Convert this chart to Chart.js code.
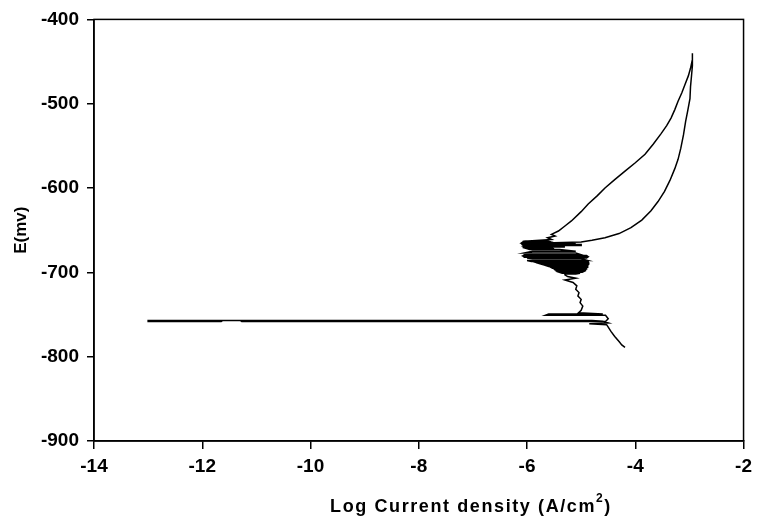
<!DOCTYPE html>
<html>
<head>
<meta charset="utf-8">
<script src="https://cdn.jsdelivr.net/npm/chart.js@4.4.0/dist/chart.umd.min.js"></script>
<style>
    html, body { margin: 0; padding: 0; background: #fff; }
    #wrap { width: 758px; height: 520px; }
</style>
</head>
<body>
<div id="wrap"><canvas id="tafel" width="758" height="520"></canvas></div>
<script>
// Polarization scan (log i in A/cm2, E in mV)
const logCurrent = [
    // cathodic tail and the long line at Ecorr
    -4.19, -4.25, -4.30, -4.38, -4.45, -4.50, -4.53, -4.85, -4.50, -4.60, -4.80,
    -13.0, -13.0, -11.65, -11.62, -11.30, -11.27, -4.55,
    -4.50, -4.55, -5.66, -5.60, -4.60, -5.05,
    // S part
    -5.00, -4.97, -5.02, -5.00, -5.06, -5.04, -5.10, -5.08, -5.15, -5.30, -5.10, -5.25, -5.30,
    // noisy band -702 .. -686
    -5.30, -5.10, -5.02, -5.35, -5.40, -4.98, -4.95, -5.42, -5.45, -4.93, -4.92, -5.48,
    -5.50, -4.90, -4.90, -5.53, -5.56, -4.89, -4.88, -5.60, -5.65, -4.88, -4.87, -5.70,
    -5.75, -4.87, -4.86, -5.80, -5.85, -4.86, -4.87, -5.92, -6.00, -4.88,
    // band -684 .. -679
    -5.00, -5.90, -6.00, -4.90, -4.88, -6.05, -6.07, -4.88, -4.90, -6.07, -6.05, -5.00,
    // band -677 .. -663
    -5.10, -6.05, -5.90, -5.10, -5.40, -5.95, -6.00, -5.50, -5.60, -6.05, -6.07, -5.30,
    -5.60, -6.05, -6.07, -5.00, -5.00, -6.08, -6.10, -5.10, -5.60, -6.10, -6.08, -5.55,
    -5.60, -6.05,
    -5.55, -5.62, -5.48, -5.55,
    // forward branch up to the vertex
    -5.42, -5.30, -5.18, -5.00, -4.87, -4.70, -4.56, -4.38, -4.19, -4.00, -3.82, -3.67, -3.53, -3.42,
    -3.34, -3.27, -3.21, -3.14, -3.08, -3.02, -2.98, -2.95, -2.94,
    // reverse branch
    -2.95, -2.96, -2.98, -2.99, -3.03, -3.07, -3.11, -3.16, -3.21, -3.27, -3.36, -3.46, -3.58, -3.71,
    -3.88, -4.08, -4.30, -4.56, -4.80, -5.00, -5.50, -6.08
];
const potential = [
    -789, -786, -782, -776, -770, -765, -762, -761, -760, -758, -757,
    -757, -758.3, -758.3, -757, -757, -758.3, -758.3,
    -755, -751, -751, -749.5, -749.5, -748,
    -745, -740, -736, -732, -728, -724, -720, -716, -712, -709, -707, -705, -703,
    -702, -702, -701, -701, -700, -700, -699, -699, -698, -698, -697, -697,
    -696, -696, -695, -695, -694, -694, -693, -693, -692, -692, -691, -691,
    -690, -690, -689, -689, -688, -688, -687, -687, -686, -686,
    -684, -684, -683, -683, -682, -682, -681, -681, -680, -680, -679, -679,
    -677, -677, -675, -675, -673, -673, -672, -672, -671, -671, -670, -670,
    -669, -669, -668, -668, -667, -667, -666, -666, -665, -665, -664, -664,
    -663, -663,
    -661, -659, -657, -655,
    -651, -645, -639, -628, -619, -609, -600, -590, -580, -570, -560, -548, -536, -526,
    -517, -507, -497, -487, -477, -467, -458, -449, -440,
    -455, -466, -480, -494, -508, -521, -537, -553, -566, -577, -591, -604, -616, -627,
    -638, -647, -654, -659, -662, -664, -665, -663
];

// Axis ranges and titles
const xRange = [-14, -2];
const yRange = [-900, -400];
const xTitle = 'Log Current density (A/cm';
const yTitle = 'E(mv)';

const FONT = "'Liberation Sans', Arial, sans-serif";

// Frame and axis titles
const framePlugin = {
    id: 'frame',
    afterDraw(chart) {
        const ctx = chart.ctx;
        const a = chart.chartArea;
        ctx.save();
        ctx.strokeStyle = '#000';
        ctx.lineWidth = 1.5;
        ctx.strokeRect(a.left, a.top, a.right - a.left, a.bottom - a.top);

        ctx.fillStyle = '#000';
        ctx.textBaseline = 'middle';
        ctx.letterSpacing = '1.6px';

        // x title with superscript 2
        ctx.font = 'bold 18px ' + FONT;
        const w1 = ctx.measureText(xTitle).width;
        ctx.font = 'bold 12px ' + FONT;
        const w2 = ctx.measureText('2').width;
        ctx.font = 'bold 18px ' + FONT;
        const w3 = ctx.measureText(')').width;
        let x = 471 - (w1 + w2 + w3) / 2;
        const y = 507;
        ctx.textAlign = 'left';
        ctx.fillText(xTitle, x, y);
        x += w1;
        ctx.font = 'bold 12px ' + FONT;
        ctx.fillText('2', x, y - 8);
        x += w2;
        ctx.font = 'bold 18px ' + FONT;
        ctx.fillText(')', x, y);

        // y title
        ctx.letterSpacing = '0px';
        ctx.font = 'bold 17px ' + FONT;
        ctx.translate(21, (a.top + a.bottom) / 2);
        ctx.rotate(-Math.PI / 2);
        ctx.textAlign = 'center';
        ctx.fillText(yTitle, 0, 0);
        ctx.restore();
    }
};

const points = logCurrent.map((v, i) => ({ x: v, y: potential[i] }));

const tickFont = { family: FONT, size: 19, weight: 'bold' };

new Chart(document.getElementById('tafel').getContext('2d'), {
    type: 'scatter',
    data: {
        datasets: [{
            data: points,
            showLine: true,
            borderColor: '#000',
            borderWidth: 1.5,
            pointRadius: 0,
            tension: 0,
            fill: false
        }]
    },
    options: {
        responsive: false,
        animation: false,
        layout: {
            padding: { top: 14, right: 7, left: 0, bottom: 0 }
        },
        plugins: {
            legend: { display: false },
            tooltip: { enabled: false }
        },
        scales: {
            x: {
                type: 'linear',
                min: xRange[0],
                max: xRange[1],
                ticks: { stepSize: 2, color: '#000', font: tickFont, padding: 6 },
                grid: { display: true, drawOnChartArea: false, drawTicks: true, tickLength: 8, color: '#000', lineWidth: 1.5 },
                border: { display: true, color: '#000', width: 1.5 },
                afterFit: function(scale) { scale.height = 79; }
            },
            y: {
                type: 'linear',
                min: yRange[0],
                max: yRange[1],
                ticks: { stepSize: 100, color: '#000', font: tickFont, padding: 8 },
                grid: { display: true, drawOnChartArea: false, drawTicks: true, tickLength: 7, color: '#000', lineWidth: 1.5 },
                border: { display: true, color: '#000', width: 1.5 },
                afterFit: function(scale) { scale.width = 94; }
            }
        }
    },
    plugins: [framePlugin]
});
</script>
</body>
</html>
